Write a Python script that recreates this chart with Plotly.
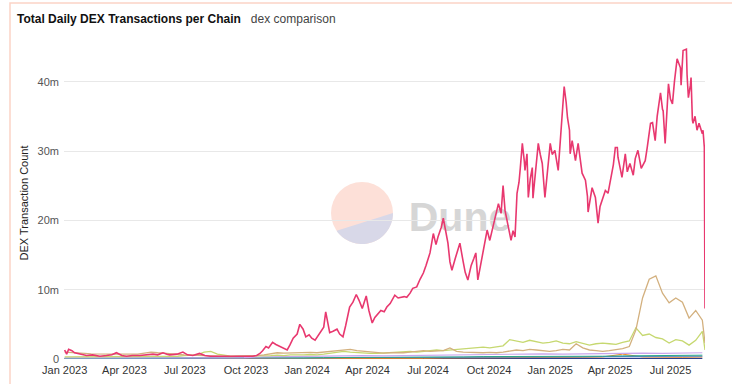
import numpy as np
import pandas as pd
import plotly.graph_objects as go

START = pd.Timestamp("2023-01-01")

# ---- main series (days since 2023-01-01, millions of tx) ----
solana_days = [0,3,6,11,15,23,33,42,53,63,
71,78,86,93,102,113,124,133,140,148,
154,158,169,178,185,193,203,211,219,229,
241,253,264,274,283,289,294,298,303,307,
313,318,324,330,335,339,344,350,354,359,
363,368,372,377,381,386,390,393,396,399,
404,410,414,419,423,429,434,439,443,448,
451,454,458,463,467,472,476,481,485,490,
494,497,502,506,511,515,520,524,530,535,
540,544,550,555,559,562,567,570,574,577,
580,583,588,592,595,600,603,607,612,616,
619,622,627,631,636,640,645,648,653,657,
660,663,668,672,675,678,681,684,686,689,
692,693,696,698,701,704,705,708,713,716,
719,723,726,731,734,738,743,746,749,752,
755,757,760,761,764,769,773,776,779,784,
787,788,791,794,799,803,806,809,814,818,
823,826,829,832,833,836,839,844,847,851,
856,859,863,868,874,877,882,885,889,892,
897,900,901,904,906,909,912,915,918,922,
927,928,931,936,937,939,942,943,945,946,
949,952,955,957,960,961,963,964]
solana_tx_m = [1.3,0.7,1.4,1.2,0.9,0.7,0.5,0.6,0.4,0.5,
0.6,0.9,0.5,0.4,0.5,0.5,0.6,0.7,0.6,0.9,
0.7,0.6,0.7,1.0,0.6,0.5,0.8,0.5,0.4,0.4,
0.4,0.3,0.35,0.4,0.4,0.5,0.8,1.2,1.8,1.6,
2.4,2.1,1.8,1.6,1.3,2.0,3.0,3.6,5.0,4.3,
3.2,3.5,3.0,2.7,3.3,4.0,4.6,6.8,5.5,3.8,
4.0,4.3,3.6,3.2,4.8,7.5,8.2,9.3,8.5,7.3,
8.2,9.1,7.0,5.2,6.0,6.6,7.0,6.8,7.5,8.0,
8.6,9.2,8.8,8.9,9.0,8.9,9.5,10.2,10.4,11.5,
12.4,13.5,15.3,18.1,16.5,17.6,19.0,20.3,18.5,16.7,
14.0,12.8,14.5,15.8,16.7,14.0,12.5,11.4,13.5,14.5,
15.3,11.4,14.0,15.5,18.6,17.1,19.0,20.5,22.4,21.0,
25.0,21.4,19.0,17.1,18.5,17.6,23.9,25.5,27.6,31.1,
28.5,27.2,29.6,23.3,26.0,27.6,23.2,26.5,31.1,29.5,
28.2,23.3,26.0,31.1,29.5,30.1,27.2,31.0,35.8,39.3,
37.0,34.8,33.0,29.6,31.5,28.6,31.1,28.5,26.8,25.8,
23.5,21.2,23.0,24.7,23.3,19.6,22.0,22.9,24.3,23.9,
26.5,28.0,30.5,30.5,29.1,27.5,26.2,29.6,27.0,28.2,
26.5,28.9,30.1,27.5,28.6,30.5,34.0,34.1,31.5,35.0,
38.4,36.0,35.8,31.1,35.0,39.7,37.5,36.8,40.0,43.3,
42.0,39.5,44.5,44.7,41.0,37.7,39.5,40.6,34.5,34.0,
35.0,33.0,34.0,33.4,32.5,33.0,30.5,7.3]

# ---- 10-day grid series ----
grid10_days = list(range(0, 961, 10)) + [964]
tan_tx_m = [1.0,0.9,0.8,0.8,0.75,0.7,0.75,0.7,0.7,0.65,
0.7,0.7,0.8,1.0,0.9,0.8,0.75,0.7,0.6,0.55,
0.5,0.45,0.4,0.35,0.35,0.35,0.4,0.4,0.45,0.5,
0.6,0.8,0.9,0.85,0.9,0.95,1.0,0.95,0.9,1.0,
1.1,1.3,1.3,1.4,1.2,1.1,1.0,0.9,0.85,0.9,
0.85,0.9,1.0,1.1,1.2,1.1,1.1,1.2,1.6,1.1,
1.0,0.95,0.9,0.9,0.95,0.9,1.0,1.1,1.3,1.2,
1.4,1.3,1.2,1.1,1.2,1.4,1.3,2.2,1.6,1.3,
1.2,1.1,1.2,1.3,1.5,1.8,4.2,8.8,11.5,12.0,
9.5,8.1,8.8,8.2,5.9,7.0,5.6,2.3]
green_tx_m = [0.3,0.3,0.3,0.35,0.3,0.3,0.3,0.35,0.3,0.3,
0.35,0.3,0.35,0.4,0.35,0.35,0.4,0.4,0.5,0.5,
0.6,1.0,1.1,0.7,0.5,0.4,0.4,0.4,0.4,0.45,
0.5,0.5,0.55,0.5,0.6,0.55,0.6,0.65,0.6,0.7,
0.8,1.0,1.1,1.0,0.9,0.9,0.8,0.8,0.85,0.9,
0.9,1.0,1.1,1.0,1.1,1.2,1.3,1.2,1.3,1.4,
1.5,1.5,1.6,1.7,1.6,1.7,1.9,2.8,2.6,2.4,
2.7,2.5,2.3,2.4,2.6,2.3,2.2,2.5,2.3,2.0,
2.2,2.3,2.2,2.1,2.4,2.6,4.5,3.4,3.6,3.1,
2.9,2.3,2.8,2.6,2.0,2.7,4.0,1.3]

# ---- 30-day grid minor series ----
grid30_days = list(range(0, 961, 30))
lavender_tx_m = [0.15,0.15,0.15,0.15,0.2,0.2,0.2,0.2,0.2,0.2,
0.3,0.35,0.4,0.45,0.5,0.5,0.45,0.5,0.55,0.6,
0.65,0.7,0.75,0.7,0.75,0.7,0.75,0.7,0.75,0.85,0.8,0.85,0.9]
teal_tx_m = [0.1,0.1,0.1,0.1,0.1,0.1,0.15,0.2,0.25,0.2,
0.15,0.15,0.15,0.2,0.2,0.2,0.2,0.25,0.25,0.3,
0.3,0.35,0.35,0.3,0.35,0.4,0.35,0.4,0.45,0.5,0.45,0.5,0.55]
blue_tx_m = [0.05,0.05,0.05,0.05,0.05,0.05,0.05,0.05,0.05,0.05,
0.1,0.1,0.15,0.15,0.2,0.2,0.2,0.2,0.25,0.25,
0.3,0.3,0.3,0.25,0.3,0.3,0.3,0.35,0.35,0.4,0.35,0.35,0.4]
orange_tx_m = [0.02,0.02,0.02,0.02,0.02,0.02,0.02,0.02,0.02,0.02,
0.03,0.05,0.05,0.08,0.1,0.1,0.1,0.1,0.1,0.15,
0.15,0.2,0.2,0.2,0.2,0.25,0.25,0.3,0.7,0.3,0.25,0.25,0.3]
navy_tx_m = [0.06,0.06,0.05,0.05,0.05,0.05,0.05,0.05,0.05,0.05,
0.06,0.06,0.07,0.07,0.08,0.08,0.08,0.08,0.09,0.09,
0.1,0.1,0.1,0.1,0.1,0.1,0.1,0.1,0.1,0.1,0.1,0.1,0.1]

y_tickvals = [0, 10e6, 20e6, 30e6, 40e6]
y_ticktext = ["0", "10m", "20m", "30m", "40m"]


def to_dates(days):
    return START + pd.to_timedelta(days, unit="D")


series = [
    (grid30_days, navy_tx_m, "#2d3e8f", 1.2),
    (grid30_days, orange_tx_m, "#f08a24", 1.0),
    (grid30_days, blue_tx_m, "#4f86c6", 1.0),
    (grid30_days, teal_tx_m, "#2aa58a", 1.0),
    (grid30_days, lavender_tx_m, "#c9a6ec", 1.2),
    (grid10_days, green_tx_m, "#c6d870", 1.3),
    (grid10_days, tan_tx_m, "#d3b07e", 1.3),
    (solana_days, solana_tx_m, "#e8386f", 1.6),
]

fig = go.Figure()
for days, vals, color, w in series:
    fig.add_trace(go.Scatter(
        x=to_dates(days), y=np.array(vals) * 1e6, mode="lines",
        line=dict(color=color, width=w), hoverinfo="skip", showlegend=False))

W, H = 732, 384
L, R, T, B = 64, 27, 47, 25
PW, PH = W - L - R, H - T - B


def px(x):
    return (x - L) / PW


def py(y):
    return (H - B - y) / PH


shapes = []
# card border
shapes.append(dict(type="rect", xref="paper", yref="paper",
                   x0=px(10), x1=px(780), y0=py(430), y1=py(3),
                   line=dict(color="#fbd3c6", width=1.5), fillcolor="rgba(0,0,0,0)",
                   layer="below"))
# watermark circle
cx, cy, r = 362, 213, 31
shapes.append(dict(type="circle", xref="paper", yref="paper",
                   x0=px(cx - r), x1=px(cx + r), y0=py(cy + r), y1=py(cy - r),
                   line=dict(width=0), fillcolor="#fde0d8", layer="below"))
ang = np.radians(np.linspace(0, 145, 40))
pts = [(px(cx + r * np.cos(a)), py(cy + r * np.sin(a))) for a in ang]
path = "M " + " L ".join(f"{a:.5f},{b:.5f}" for a, b in pts) + " Z"
shapes.append(dict(type="path", xref="paper", yref="paper", path=path,
                   line=dict(width=0), fillcolor="#d8d8e8", layer="below"))
# watermark text
shapes.append(dict(type="rect", xref="paper", yref="paper",
                   x0=px(400), x1=px(520), y0=py(238), y1=py(188),
                   line=dict(width=0), fillcolor="rgba(0,0,0,0)", layer="below",
                   label=dict(text="Dune", textposition="middle center",
                              font=dict(family="Liberation Sans", size=41,
                                        color="#d6d6d6", weight="bold"))))

fig.update_layout(
    width=W, height=H,
    margin=dict(l=L, r=R, t=T, b=B, autoexpand=False),
    paper_bgcolor="white", plot_bgcolor="white",
    font=dict(family="Liberation Sans", size=11, color="#333"),
    title=dict(
        text="<b>Total Daily DEX Transactions per Chain</b>\u00a0\u00a0\u00a0<span style='color:#444'>dex comparison</span>",
        xref="container", yref="container", x=17 / W, y=1 - 19 / H,
        xanchor="left", yanchor="middle",
        font=dict(family="Liberation Sans", size=12, color="#111")),
    shapes=shapes,
    showlegend=False,
    hovermode=False,
)
fig.update_xaxes(
    type="date", range=["2022-12-31", "2025-08-22"],
    tick0="2023-01-01", dtick="M3", tickformat="%b %Y",
    showgrid=False, zeroline=False, showline=False, ticks="",
    ticklabelstandoff=3, automargin=False,
    tickfont=dict(size=11, color="#333"))
fig.update_yaxes(
    range=[0, 45e6], tickvals=y_tickvals, ticktext=y_ticktext,
    showgrid=True, gridcolor="#e8e8e8", gridwidth=1, zeroline=False,
    showline=False, ticks="", ticklabelstandoff=4, automargin=False,
    tickfont=dict(size=11, color="#555"),
    title=dict(text="DEX Transaction Count", font=dict(size=11, color="#222"), standoff=6))

fig.write_html("out.html", config={"displayModeBar": False},
               post_script="document.body.style.margin='0';document.body.style.overflow='hidden';")
